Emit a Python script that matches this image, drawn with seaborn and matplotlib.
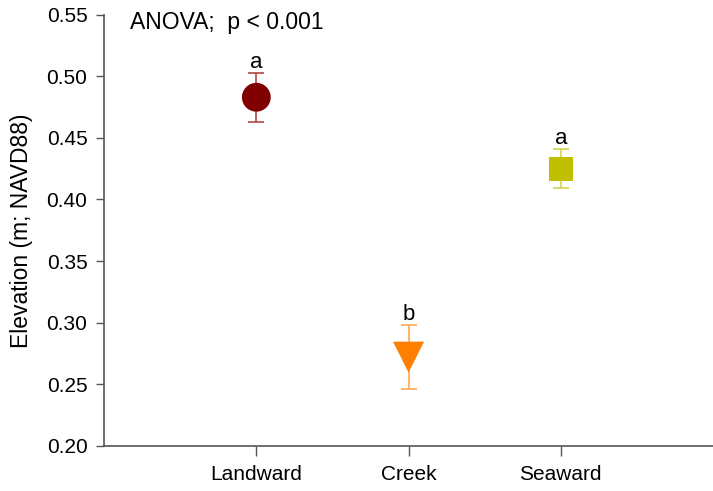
import matplotlib
matplotlib.use("Agg")
import matplotlib.pyplot as plt
import seaborn as sns
import pandas as pd

# Mean elevation per marsh zone with error (m, NAVD88)
zones = ["Landward", "Creek", "Seaward"]
means = [0.483, 0.272, 0.425]
errors = [0.020, 0.026, 0.016]
letters = ["a", "b", "a"]

marker_colors = ["#800000", "#FF8000", "#C0C000"]
bar_colors = ["#B24848", "#FFA850", "#D4D450"]
marker_shapes = ["o", "v", "s"]
marker_sizes = [430, 500, 300]

sns.set_style("white")
plt.rcParams["font.family"] = ["Liberation Sans", "DejaVu Sans"]
plt.rcParams["text.color"] = "black"
plt.rcParams["axes.labelcolor"] = "black"
plt.rcParams["xtick.color"] = "black"
plt.rcParams["ytick.color"] = "black"

df = pd.DataFrame({"zone": zones, "mean": means, "err": errors})

fig = plt.figure(figsize=(7.13, 4.91), dpi=100)
ax = fig.add_axes([0.146, 0.092, 0.854, 0.878])

for i, z in enumerate(zones):
    ax.errorbar(i, means[i], yerr=errors[i], fmt="none", ecolor=bar_colors[i],
                elinewidth=1.2, capsize=6, capthick=1.2, zorder=2)

for i, z in enumerate(zones):
    sub = df[df["zone"] == z].assign(pos=i)
    sns.scatterplot(data=sub, x="pos", y="mean", marker=marker_shapes[i],
                    s=marker_sizes[i], color=marker_colors[i], edgecolor="none",
                    linewidth=0, ax=ax, zorder=3, legend=False)
    ax.text(i, means[i] + errors[i] + 0.004, letters[i], ha="center",
            va="baseline", fontsize=16)

ax.set_xlim(-1, 3)
ax.set_ylim(0.20, 0.55)
ax.set_xticks(range(len(zones)))
ax.set_xticklabels(zones)
ax.set_yticks([0.20, 0.25, 0.30, 0.35, 0.40, 0.45, 0.50, 0.55])
ax.set_yticklabels([f"{v:.2f}" for v in ax.get_yticks()])
ax.set_xlabel("")
ax.set_ylabel("Elevation (m; NAVD88)", fontsize=16.5, labelpad=10)

for side in ["top", "right"]:
    ax.spines[side].set_visible(False)
for side in ["left", "bottom"]:
    ax.spines[side].set_color("#555555")
    ax.spines[side].set_linewidth(1.2)

ax.tick_params(axis="both", which="major", direction="out", length=6, width=1,
               color="#555555", labelsize=15, bottom=True, left=True)
ax.tick_params(axis="x", pad=7, length=7)
ax.tick_params(axis="y", pad=6)

ax.text(-0.83, 0.553, "ANOVA;  p < 0.001", ha="left", va="top", fontsize=16.5)

fig.savefig("out.png", dpi=100)
